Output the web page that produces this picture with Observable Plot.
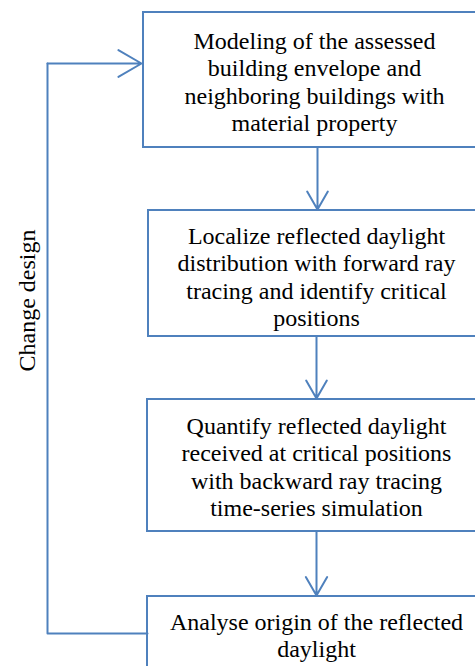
<!DOCTYPE html>
<html>
<head>
<meta charset="utf-8">
<script src="https://cdn.jsdelivr.net/npm/d3@7"></script>
<script src="https://cdn.jsdelivr.net/npm/@observablehq/plot@0.6"></script>
<style>
  html, body { margin: 0; padding: 0; background: #fff; }
  #chart svg { display: block; }
</style>
</head>
<body>
<div id="chart"></div>
<script>
// Flowchart steps (text) and their box extents in the 475x666 frame
const steps = [
  "Modeling of the assessed\nbuilding envelope and\nneighboring buildings with\nmaterial property",
  "Localize reflected daylight\ndistribution with forward ray\ntracing and identify critical\npositions",
  "Quantify reflected daylight\nreceived at critical positions\nwith backward ray tracing\ntime-series simulation",
  "Analyse origin of the reflected\ndaylight"
];
const boxLeft   = [143, 148, 147, 147];
const boxRight  = [490, 490, 490, 490];
const boxTop    = [12, 210, 399, 596];
const boxBottom = [147, 336, 531, 720];
const textX     = [314, 316, 316, 316];
const textTop   = [29, 224, 414, 610];

// Down arrows between steps
const arrowX  = [317, 316, 316];
const arrowY1 = [147, 336, 531];
const arrowY2 = [209, 398, 595];

// Feedback loop ("Change design")
const loopX = [147, 47, 47, 141];
const loopY = [633, 633, 63, 63];
const loopLabel = "Change design";

const blue = "#4F81BD";
const font = "'Liberation Serif', 'Times New Roman', serif";
const fs = 24;

const boxes = steps.map((t, i) => ({
  text: t, x1: boxLeft[i], x2: boxRight[i], y1: boxTop[i], y2: boxBottom[i], tx: textX[i], ty: textTop[i]
}));
const arrows = arrowX.map((x, i) => ({x, y1: arrowY1[i], y2: arrowY2[i]}));
const loop = loopX.map((x, i) => ({x, y: loopY[i]}));

const plot = Plot.plot({
  width: 475,
  height: 666,
  margin: 0,
  x: {domain: [0, 475], range: [0, 475], axis: null},
  y: {domain: [0, 666], range: [0, 666], axis: null},
  style: {fontFamily: font, background: "#fff"},
  marks: [
    Plot.rect(boxes, {x1: "x1", x2: "x2", y1: "y1", y2: "y2", fill: "#fff", stroke: blue, strokeWidth: 2}),
    Plot.text(boxes, {
      x: "tx", y: "ty", text: "text",
      lineAnchor: "top", lineHeight: 1.14, fontSize: fs, fill: "#000",
      fontFamily: font, textAnchor: "middle"
    }),
    Plot.arrow(arrows, {
      x1: "x", x2: "x", y1: "y1", y2: "y2",
      stroke: blue, strokeWidth: 2, headLength: 20, headAngle: 60
    }),
    Plot.line(loop.slice(0, 3), {x: "x", y: "y", stroke: blue, strokeWidth: 2, curve: "linear"}),
    Plot.arrow([{x1: loopX[2], y1: loopY[2], x2: loopX[3], y2: loopY[3]}], {
      x1: "x1", y1: "y1", x2: "x2", y2: "y2",
      stroke: blue, strokeWidth: 2, headLength: 20, headAngle: 60
    }),
    Plot.text([loopLabel], {
      x: () => 27, y: () => 300, text: d => d, rotate: -90,
      fontSize: fs, fill: "#000", fontFamily: font, textAnchor: "middle"
    })
  ]
});
document.getElementById("chart").appendChild(plot);
</script>
</body>
</html>
